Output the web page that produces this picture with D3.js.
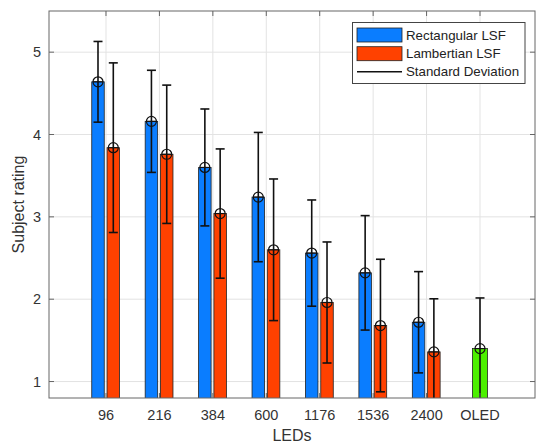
<!DOCTYPE html>
<html><head><meta charset="utf-8">
<script src="https://cdn.jsdelivr.net/npm/d3@7"></script>
<style>html,body{margin:0;padding:0;background:#fff;}svg{display:block;font-family:"Liberation Sans",Arial,sans-serif;}</style>
</head><body><svg id="c" width="538" height="445"></svg>
<script>
const categories = ["96","216","384","600","1176","1536","2400","OLED"];
const rectMean = [4.64, 4.16, 3.60, 3.24, 2.56, 2.32, 1.72];
const rectSD   = [0.49, 0.62, 0.71, 0.785, 0.645, 0.695, 0.615];
const lambMean = [3.84, 3.76, 3.04, 2.60, 1.96, 1.68, 1.36];
const lambSD   = [1.03, 0.84, 0.785, 0.86, 0.735, 0.805, 0.645];
const oledMean = [1.40];
const oledSD   = [0.615];
const yTicks = [1, 2, 3, 4, 5];
const legendLabels = ["Rectangular LSF", "Lambertian LSF", "Standard Deviation"];

const colBlue = "#0a7dff", colOrange = "#ff4100", colGreen = "#4cf000";
const L = 49, R = 535, T = 11, B = 398;
const svg = d3.select("#c");
const x = d3.scaleLinear().domain([1 - 57/53.43, 8 + 55/53.43]).range([L, R]);
const y = d3.scaleLinear().domain([0.8, 5.5]).range([B, T]);

svg.append("defs").append("clipPath").attr("id","clip")
  .append("rect").attr("x",L).attr("y",T).attr("width",R-L).attr("height",B-T);

// grid
const g = svg.append("g");
g.selectAll(".gx").data(categories).enter().append("line")
  .attr("x1",(d,i)=>x(i+1)).attr("x2",(d,i)=>x(i+1)).attr("y1",T).attr("y2",B)
  .attr("stroke","#e3e3e3").attr("stroke-width",1);
g.selectAll(".gy").data(yTicks).enter().append("line")
  .attr("x1",L).attr("x2",R).attr("y1",d=>y(d)).attr("y2",d=>y(d))
  .attr("stroke","#e3e3e3").attr("stroke-width",1);

const plot = svg.append("g").attr("clip-path","url(#clip)");
const bw = 12.5, offB = -8.0, offO = 7.3, gw = 15;

function bars(means, off, w, col, idx0){
  plot.selectAll(null).data(means).enter().append("rect")
    .attr("x",(d,i)=>x(i+idx0)+off-w/2).attr("width",w)
    .attr("y",d=>y(d)).attr("height",d=>B+2-y(d))
    .attr("fill",col).attr("stroke","#222").attr("stroke-width",0.8);
}
bars(rectMean, offB, bw, colBlue, 1);
bars(lambMean, offO, bw, colOrange, 1);
bars(oledMean, 0, gw, colGreen, 8);

function errs(means, sds, off, idx0){
  means.forEach((m,i)=>{
    const cx = x(i+idx0)+off, hi = y(m+sds[i]), lo = y(m-sds[i]), cy = y(m);
    const eg = plot.append("g").attr("stroke","#111").attr("stroke-width",1.6).attr("fill","none");
    eg.append("line").attr("x1",cx).attr("x2",cx).attr("y1",hi).attr("y2",lo);
    eg.append("line").attr("x1",cx-4.5).attr("x2",cx+4.5).attr("y1",hi).attr("y2",hi);
    eg.append("line").attr("x1",cx-4.5).attr("x2",cx+4.5).attr("y1",lo).attr("y2",lo);
    eg.append("circle").attr("cx",cx).attr("cy",cy).attr("r",5).attr("stroke-width",1.2);
    eg.append("line").attr("x1",cx-5).attr("x2",cx+5).attr("y1",cy).attr("y2",cy).attr("stroke-width",1.2);
  });
}
errs(rectMean, rectSD, offB, 1);
errs(lambMean, lambSD, offO, 1);
errs(oledMean, oledSD, 0, 8);

// box and ticks
const ax = svg.append("g").attr("stroke","#666").attr("stroke-width",1).attr("fill","none");
ax.append("rect").attr("x",L).attr("y",T).attr("width",R-L).attr("height",B-T);
categories.forEach((c,i)=>{
  ax.append("line").attr("x1",x(i+1)).attr("x2",x(i+1)).attr("y1",B).attr("y2",B-5);
  ax.append("line").attr("x1",x(i+1)).attr("x2",x(i+1)).attr("y1",T).attr("y2",T+5);
});
yTicks.forEach(t=>{
  ax.append("line").attr("x1",L).attr("x2",L+5).attr("y1",y(t)).attr("y2",y(t));
  ax.append("line").attr("x1",R).attr("x2",R-5).attr("y1",y(t)).attr("y2",y(t));
});

// tick labels
svg.selectAll(".xl").data(categories).enter().append("text")
  .attr("x",(d,i)=>x(i+1)).attr("y",420).attr("text-anchor","middle")
  .attr("font-size","14.5px").attr("fill","#333").text(d=>d);
svg.selectAll(".yl").data(yTicks).enter().append("text")
  .attr("x",41).attr("y",d=>y(d)+5.3).attr("text-anchor","end")
  .attr("font-size","14.5px").attr("fill","#333").text(d=>d);

svg.append("text").attr("x",(L+R)/2).attr("y",441).attr("text-anchor","middle")
  .attr("font-size","16px").attr("fill","#333").text("LEDs");
svg.append("text").attr("transform",`translate(24,${(T+B)/2}) rotate(-90)`)
  .attr("text-anchor","middle").attr("font-size","16px").attr("fill","#333").text("Subject rating");

// legend
const lg = svg.append("g");
lg.append("rect").attr("x",352.5).attr("y",22.5).attr("width",172.5).attr("height",61)
  .attr("fill","#fff").attr("stroke","#444").attr("stroke-width",1);
const rowsY = [35, 53.7, 71.7];
lg.append("rect").attr("x",357).attr("y",28).attr("width",45).attr("height",14)
  .attr("fill",colBlue).attr("stroke","#222").attr("stroke-width",0.8);
lg.append("rect").attr("x",357).attr("y",46.7).attr("width",45).attr("height",14)
  .attr("fill",colOrange).attr("stroke","#222").attr("stroke-width",0.8);
lg.append("line").attr("x1",357).attr("x2",402).attr("y1",71.7).attr("y2",71.7)
  .attr("stroke","#111").attr("stroke-width",1.6);
lg.selectAll(".lt").data(legendLabels).enter().append("text")
  .attr("x",406).attr("y",(d,i)=>rowsY[i]+4.6).attr("font-size","13.3px").attr("fill","#222").text(d=>d);
</script></body></html>
